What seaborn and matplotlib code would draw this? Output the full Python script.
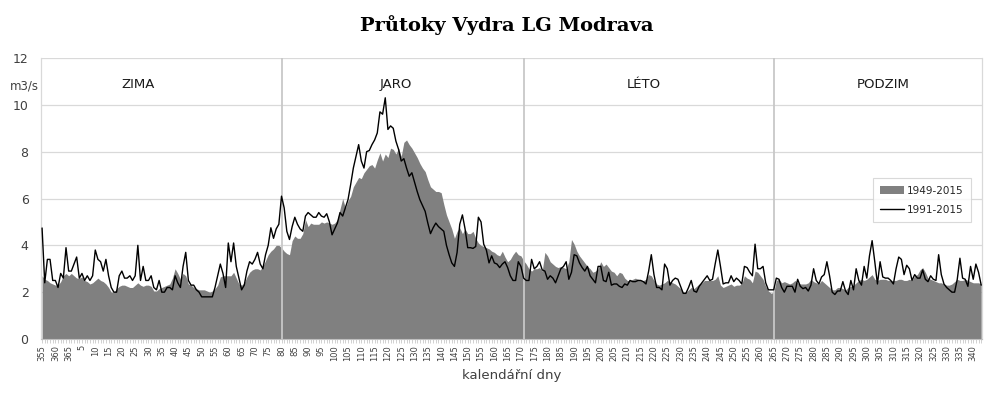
import matplotlib
matplotlib.use("Agg")
import matplotlib.pyplot as plt
import seaborn as sns
import numpy as np
import pandas as pd

# --- DATA ---
# calendar days on the x axis: 355..365, then 1..343
DAYS = list(range(355, 366)) + list(range(1, 344))

FLOW_1949_2015 = [
    2.7, 2.55, 2.5, 2.4, 2.35, 2.3, 2.3, 2.45, 2.7, 2.8,
    2.7, 2.8, 2.7, 2.6, 2.6, 2.65, 2.5, 2.45, 2.35, 2.4,
    2.5, 2.6, 2.5, 2.45, 2.35, 2.2, 2.0, 2.0, 2.15, 2.25,
    2.3, 2.3, 2.25, 2.2, 2.2, 2.3, 2.4, 2.3, 2.25, 2.3,
    2.3, 2.25, 2.05, 2.05, 2.15, 2.2, 2.25, 2.3, 2.35, 2.6,
    3.0, 2.8, 2.55, 2.8, 2.7, 2.35, 2.3, 2.2, 2.15, 2.1,
    2.1, 2.1, 2.05, 2.0, 2.05, 2.15, 2.3, 2.65, 2.7, 2.7,
    2.7, 2.7, 2.85, 2.6, 2.35, 2.3, 2.4, 2.65, 2.85, 2.95,
    3.0, 3.0, 2.95, 3.1, 3.35, 3.6, 3.75, 3.85, 4.0, 4.0,
    3.9, 3.75, 3.65, 3.6, 4.2, 4.4, 4.3, 4.3, 4.5, 5.1,
    4.8, 4.95, 4.9, 4.9, 4.9, 5.0, 4.95, 5.0, 4.95, 4.9,
    4.95, 5.1, 5.55, 6.0, 5.6, 5.9, 6.1, 6.5, 6.7, 6.9,
    6.85, 7.1, 7.25, 7.4, 7.45, 7.3, 7.65, 7.95, 7.6, 7.9,
    7.75, 8.15, 8.1, 7.9, 8.15, 7.8, 8.4, 8.5, 8.3, 8.15,
    7.95, 7.75, 7.5, 7.3, 7.15, 6.8, 6.5, 6.4, 6.3, 6.3,
    6.25, 5.75, 5.3, 5.0, 4.7, 4.3, 4.6, 4.75, 4.5, 4.7,
    4.5, 4.5, 4.6, 4.3, 4.1, 4.0, 3.95, 3.9, 3.85, 3.75,
    3.7, 3.6, 3.55, 3.75, 3.5, 3.3, 3.4, 3.6, 3.75, 3.6,
    3.55, 3.35, 3.2, 3.0, 2.9, 3.0, 3.0, 3.05, 2.9, 3.7,
    3.55, 3.3, 3.2, 3.1, 3.05, 3.1, 3.05, 3.0, 3.3, 4.25,
    4.05, 3.75, 3.55, 3.4, 3.25, 3.1, 3.0, 2.85, 2.9, 3.0,
    3.3, 3.1, 3.2, 3.05, 2.9, 2.85, 2.7, 2.85, 2.8, 2.6,
    2.5, 2.5, 2.55, 2.6, 2.55, 2.5, 2.5, 2.55, 2.75, 2.7,
    2.5, 2.35, 2.3, 2.35, 2.4, 2.5, 2.45, 2.4, 2.35, 2.25,
    2.15, 2.0, 2.0, 2.1, 2.2, 2.15, 2.25, 2.35, 2.4, 2.5,
    2.5, 2.5, 2.5, 2.55, 2.7, 2.3, 2.2, 2.25, 2.3, 2.35,
    2.25, 2.3, 2.3, 2.35, 2.7, 2.6, 2.55, 2.4, 2.9, 2.85,
    2.7, 2.55, 2.25, 2.05, 1.95, 2.0, 2.5, 2.55, 2.4, 2.45,
    2.4, 2.35, 2.4, 2.5, 2.4, 2.35, 2.35, 2.35, 2.4, 2.55,
    2.45, 2.4, 2.35, 2.5, 2.4, 2.3, 2.2, 2.1, 2.1, 2.2,
    2.2, 2.15, 2.1, 2.2, 2.25, 2.3, 2.4, 2.5, 2.55, 2.5,
    2.55, 2.65, 2.75, 2.55, 2.5, 2.55, 2.55, 2.55, 2.5, 2.5,
    2.5, 2.5, 2.55, 2.55, 2.5, 2.5, 2.55, 2.5, 2.7, 2.75,
    2.95, 3.05, 2.85, 2.6, 2.55, 2.5, 2.45, 2.4, 2.4, 2.35,
    2.3, 2.3, 2.35, 2.45, 2.55, 2.5, 2.5, 2.55, 2.5, 2.45,
    2.4, 2.4, 2.4, 2.35,
]

FLOW_1991_2015 = [
    4.74, 2.4, 3.4, 3.4, 2.5, 2.5, 2.2, 2.8, 2.6, 3.9,
    2.9, 2.9, 3.2, 3.5, 2.6, 2.8, 2.5, 2.7, 2.5, 2.7,
    3.8, 3.4, 3.3, 2.9, 3.4, 2.7, 2.2, 2.0, 2.0, 2.7,
    2.9, 2.6, 2.6, 2.7, 2.5, 2.7, 4.0, 2.5, 3.1, 2.5,
    2.5, 2.7, 2.2, 2.1, 2.5, 2.0, 2.0, 2.2, 2.2, 2.1,
    2.7, 2.4, 2.2, 3.1, 3.7, 2.5, 2.3, 2.3, 2.1, 2.0,
    1.8, 1.8, 1.8, 1.8, 1.8, 2.2, 2.7, 3.2, 2.8, 2.2,
    4.1, 3.3, 4.1, 3.1, 2.6, 2.1, 2.3, 2.9, 3.3, 3.2,
    3.4, 3.7, 3.2, 3.0, 3.6, 4.0, 4.75, 4.3, 4.7, 4.9,
    6.1, 5.6, 4.6, 4.25, 4.8, 5.2, 4.9, 4.7, 4.6, 5.25,
    5.4, 5.3, 5.2, 5.2, 5.4, 5.25, 5.2, 5.35, 5.0, 4.45,
    4.7, 4.95, 5.4, 5.25, 5.6, 5.95, 6.6, 7.3, 7.8, 8.3,
    7.6, 7.3, 8.0, 8.05, 8.3, 8.5, 8.8, 9.7, 9.6, 10.3,
    8.95, 9.1, 9.0, 8.45, 8.1, 7.6, 7.7, 7.3, 6.95, 7.1,
    6.7, 6.3, 5.95, 5.7, 5.45, 4.95, 4.5, 4.75, 4.95, 4.8,
    4.7, 4.6, 4.0, 3.6, 3.25, 3.1, 3.7, 4.9, 5.3, 4.7,
    3.9, 3.9, 3.87, 3.95, 5.2, 5.0, 4.05, 3.8, 3.25, 3.55,
    3.25, 3.2, 3.05, 3.2, 3.3, 3.05, 2.7, 2.5, 2.5, 3.3,
    3.1, 2.6, 2.5, 2.5, 3.4, 3.0, 3.1, 3.3, 2.95, 2.9,
    2.55, 2.7, 2.6, 2.4, 2.7, 3.0, 3.1, 3.3, 2.55, 2.85,
    3.6, 3.55, 3.25, 3.05, 2.9, 3.1, 2.7, 2.55, 2.4, 3.1,
    3.1, 2.5, 2.45, 2.85, 2.3, 2.35, 2.35, 2.25, 2.2, 2.35,
    2.3, 2.5, 2.45, 2.45, 2.5, 2.5, 2.45, 2.35, 2.9, 3.6,
    2.75, 2.2, 2.2, 2.1, 3.2, 3.0, 2.3, 2.5, 2.6, 2.55,
    2.25, 1.95, 1.95, 2.2, 2.5, 2.05, 2.0, 2.25, 2.4, 2.55,
    2.7, 2.5, 2.55, 3.2, 3.8, 3.1, 2.35, 2.4, 2.4, 2.7,
    2.45, 2.6, 2.5, 2.35, 3.1, 3.05, 2.85, 2.7, 4.05, 3.0,
    3.0, 3.1, 2.4, 2.1, 2.1, 2.1, 2.6, 2.55, 2.2, 2.0,
    2.25, 2.25, 2.25, 2.0, 2.55, 2.25, 2.15, 2.2, 2.05, 2.3,
    3.0, 2.5, 2.35, 2.65, 2.75, 3.3, 2.7, 2.0, 1.9, 2.05,
    2.05, 2.45, 2.05, 1.9, 2.5, 2.1, 3.0, 2.5, 2.3, 3.1,
    2.6, 3.55, 4.2, 3.3, 2.35, 3.3, 2.65, 2.6, 2.6, 2.5,
    2.35, 3.0, 3.5, 3.4, 2.75, 3.15, 3.0, 2.5, 2.75, 2.6,
    2.6, 2.95, 2.55, 2.45, 2.7, 2.55, 2.5, 3.6, 2.75, 2.35,
    2.2, 2.1, 2.0, 2.0, 2.55, 3.45, 2.6, 2.55, 2.25, 3.1,
    2.55, 3.2, 2.85, 2.3,
]

SEASONS = ["ZIMA", "JARO", "LÉTO", "PODZIM"]
SEASON_LABEL_DAY = [26, 123, 216, 306]   # where the season names sit
SEASON_START_DAY = [80, 171, 265]        # grey dividers (jaro, léto, podzim)

# --- PLOT ---
sns.set_style("white")
plt.rcParams['font.family'] = ['DejaVu Sans']

df = pd.DataFrame({
    "pos": np.arange(len(DAYS)),
    "day": DAYS,
    "a": FLOW_1949_2015,
    "b": FLOW_1991_2015,
})

def pos_of(day):
    return DAYS.index(day)

fig = plt.figure(figsize=(9.96, 3.96), dpi=100)
ax = fig.add_axes([41 / 996, 1 - 339 / 396, 941 / 996, 281 / 396])

grid_c = "#d9d9d9"
ax.set_ylim(0, 12)
ax.set_xlim(-0.4, len(DAYS) - 0.7)
ax.set_yticks(range(0, 13, 2))
ax.yaxis.grid(True, color=grid_c, lw=0.9, zorder=0)
ax.set_axisbelow(True)

ax.fill_between(df["pos"], 0, df["a"], color="#808080", lw=0, zorder=2,
                label="1949-2015")

for d in SEASON_START_DAY:
    ax.axvline(pos_of(d), color="#c8c8c8", lw=1.3, zorder=3)

sns.lineplot(data=df, x="pos", y="b", color="black", lw=1.0, ax=ax,
             zorder=4, label="1991-2015")

for name, d in zip(SEASONS, SEASON_LABEL_DAY):
    ax.text(pos_of(d), 10.85, name, ha="center", va="center",
            fontsize=9.5, color="#1a1a1a")

ax.text(-6.8, 10.8, "m3/s", ha="center", va="center", fontsize=8.5,
        color="#404040", clip_on=False)

# axes cosmetics
for side in ["left", "right"]:
    ax.spines[side].set_color(grid_c)
    ax.spines[side].set_linewidth(0.9)
ax.spines["top"].set_visible(False)
ax.spines["bottom"].set_color("#bfbfbf")

tick_pos = list(range(0, len(DAYS), 5))
ax.set_xticks(tick_pos)
ax.set_xticklabels([str(DAYS[p]) for p in tick_pos], rotation=90,
                   fontsize=6, color="#404040")
ax.set_xticks(range(len(DAYS)), minor=True)
ax.tick_params(axis="x", which="both", direction="out", length=3,
               width=0.5, color="#bfbfbf", pad=1.5, bottom=True)
ax.tick_params(axis="y", length=0, pad=9, labelsize=9, labelcolor="#404040")

ax.set_xlabel("kalendářní dny", fontsize=9.5, color="#404040")
ax.xaxis.set_label_coords(0.5005, -0.105)
ax.set_ylabel("")

leg = ax.legend(loc="upper left", bbox_to_anchor=(0.884, 0.572),
                fontsize=7.5, frameon=True, fancybox=False,
                edgecolor="#d0d0d0", handlelength=2.3, handleheight=0.7,
                borderpad=0.7, labelspacing=0.9, handletextpad=0.3,
                borderaxespad=0)
leg.get_frame().set_linewidth(0.8)

fig.text(0.509, 0.937, "Průtoky Vydra LG Modrava", ha="center", va="center",
         fontsize=14, fontweight="bold", family="DejaVu Serif", color="black")

fig.savefig("out.png", dpi=100)
